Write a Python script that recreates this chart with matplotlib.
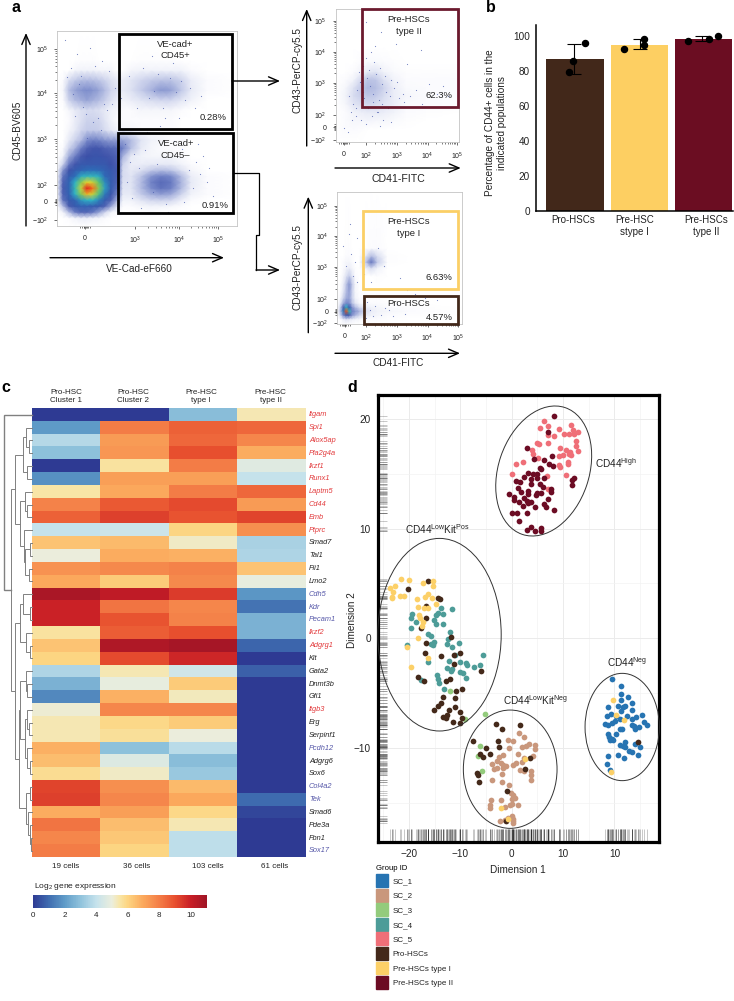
import numpy as np
import matplotlib
matplotlib.use('Agg')
import matplotlib.pyplot as plt
from matplotlib.colors import LinearSegmentedColormap
from matplotlib.patches import Ellipse, Patch, Rectangle
from matplotlib.cm import ScalarMappable
from matplotlib.colors import Normalize

plt.rcParams['font.family'] = ['Liberation Sans', 'DejaVu Sans']
plt.rcParams['mathtext.default'] = 'regular'
plt.rcParams['axes.unicode_minus'] = True

W, H = 734, 1001

# ---- panel a, flow density (level 0-10)
a_x = [0, 6, 12, 18, 24, 30, 36, 42, 48, 54, 60, 66, 74, 84, 94, 104, 114, 124, 134, 150, 180]
a_y = [0, 8, 14, 20, 26, 32, 38, 44, 50, 56, 62, 70, 78, 86, 96, 106, 116, 126, 136, 146, 156, 166, 195]
a_density = [
    [0] * 21,
    [0, 0, .1, .3, .4, .4, .3, .2, .1, 0, 0, 0, 0, 0, 0, 0, 0, 0, 0, 0, 0],
    [0, .3, 1.6, 3.2, 4, 4, 3.4, 2.2, .9, .3, .1, 0, 0, 0, .1, 0, 0, 0, 0, 0, 0],
    [0, 1.6, 4.4, 5, 5.2, 5.2, 5.1, 5, 4.2, 2.2, .7, .1, .1, .2, .3, .3, .2, .1, 0, 0, 0],
    [0, 3.6, 5, 5.3, 5.9, 6.2, 6.2, 5.7, 5.1, 4.2, 1.8, .3, .3, .6, .9, 1, .9, .4, .1, 0, 0],
    [.1, 4.2, 5.2, 6.2, 7.4, 8.4, 7.8, 6.9, 5.6, 4.9, 3, .5, .5, 1.2, 2, 2.4, 2.1, 1, .3, .1, 0],
    [.2, 4.4, 5.3, 6.4, 7.8, 10, 9.2, 7.4, 6, 5.1, 3.8, .6, .6, 1.6, 2.8, 3.6, 3.2, 1.7, .4, .1, 0],
    [.2, 4.2, 5.3, 6.2, 7.4, 8, 7.8, 7.1, 5.8, 5.1, 4.2, .7, .6, 1.6, 3.1, 3.9, 3.4, 1.8, .5, .1, 0],
    [.1, 3.6, 5.1, 5.5, 6.1, 6.3, 6.3, 6.1, 5.4, 5.1, 4.4, .8, .6, 1.4, 2.6, 3.2, 2.9, 1.6, .4, .1, 0],
    [.1, 2.6, 4.7, 5.1, 5.3, 5.5, 5.5, 5.4, 5.2, 5, 4.5, .8, .5, .7, 1.2, 1.5, 1.3, .7, .2, 0, 0],
    [0, 1, 3.4, 4.6, 5, 5, 5, 5, 5, 4.8, 4.3, 1, .4, .4, .5, .5, .5, .3, .1, 0, 0],
    [0, .3, 2, 3.2, 4.4, 4.8, 4.9, 4.9, 4.7, 4.5, 4.2, 1.8, .5, .3, .2, .2, .2, .1, 0, 0, 0],
    [0, .1, 1, 1.8, 3.2, 4.2, 4.6, 4.6, 4.2, 4, 3.8, 3.2, 1.5, .5, .2, .1, .1, .1, 0, 0, 0],
    [0, 0, .5, 1, 1.6, 2.8, 3.2, 3, 2.6, 2.4, 2.4, 2.2, 1.6, .6, .3, .2, .1, .1, 0, 0, 0],
    [0, 0, .2, .5, .9, 1.2, 1.2, 1.1, .8, .5, .3, .2, .2, .1, .1, .1, .1, 0, 0, 0, 0],
    [0, 0, .1, .4, .7, 1, 1, .9, .6, .3, .1, .1, .1, .1, .1, .1, .1, 0, 0, 0, 0],
    [0, 0, .2, .5, .7, .8, .8, .7, .5, .3, .2, .1, .1, .2, .2, .2, .2, .1, 0, 0, 0],
    [0, .1, 1, 1.6, 1.9, 2.2, 1.9, 1.6, 1.1, .7, .4, .3, .4, .6, .8, .9, .9, .6, .3, 0, 0],
    [0, .2, 1.5, 2.2, 2.6, 2.8, 2.6, 2.2, 1.6, .9, .7, .5, .7, 1.2, 1.8, 2.5, 2.3, 1.3, .5, .1, 0],
    [0, .1, .8, 1.2, 1.5, 1.6, 1.5, 1.3, 1, .7, .5, .4, .6, .9, 1.2, 1.4, 1.4, 1, .4, .1, 0],
    [0, 0, 0, .2, .3, .3, .3, .2, .2, .2, 0, 0, .2, .3, .3, .3, .3, .3, .1, 0, 0],
    [0, 0, 0, 0, .05, .05, .05, 0, 0, 0, 0, 0, 0, .05, .05, .05, .05, 0, 0, 0, 0],
    [0] * 21,
]
a_dots_x = [8, 20, 33, 45, 14, 38, 52, 10, 16, 26, 29, 41, 47, 58, 64, 72, 80, 86, 92, 97, 101, 108, 113, 119, 124, 128, 133, 138, 144,
            68, 77, 90, 103, 117, 125, 139, 146, 152, 75, 84, 96, 111, 127, 136, 143, 150, 73, 82, 100, 120, 132, 70, 88, 109, 141,
            24, 36, 44, 50, 30, 22, 55, 62, 18, 95, 106, 116, 122, 130, 156]
a_dots_y = [186, 172, 178, 165, 158, 160, 155, 149, 132, 119, 112, 108, 122, 138, 128, 150, 118, 158, 128, 135, 152, 108, 148, 134, 145, 126, 138, 118, 130,
            82, 72, 94, 100, 85, 77, 64, 70, 58, 28, 18, 34, 14, 24, 38, 52, 44, 64, 58, 62, 70, 56, 44, 76, 22, 82,
            150, 104, 96, 116, 88, 142, 122, 102, 110, 170, 118, 163, 108, 96, 30]

t2_x = [0, 10, 18, 26, 32, 40, 48, 58, 70, 90, 123]
t2_y = [0, 12, 22, 30, 38, 46, 54, 62, 70, 80, 95, 133]
t2_density = [
    [0] * 11,
    [0, .1, .1, .05, 0, 0, 0, 0, 0, 0, 0],
    [0, .1, .2, .2, .25, .2, .2, .15, .05, 0, 0],
    [0, .1, .3, .4, .5, .5, .4, .3, .1, .05, 0],
    [0, .2, .6, .8, .9, .8, .6, .4, .15, .1, .05],
    [0, .3, .8, 1.1, 1.3, 1.2, .8, .4, .2, .1, .1],
    [0, .2, .7, 1.3, 1.7, 1.5, 1, .4, .15, .1, .1],
    [0, .1, .3, .9, 1.4, 1.3, .7, .3, .1, .1, .1],
    [0, 0, .1, .3, .5, .6, .3, .15, .05, .05, .05],
    [0, 0, 0, .1, .15, .15, .1, .05, .03, 0, 0],
    [0, .02, .03, .03, .03, .03, .03, .03, .02, 0, 0],
    [0] * 11,
]
t2_dots_x = [13, 17, 21, 24, 28, 31, 34, 37, 40, 43, 46, 50, 54, 58, 63, 68, 74, 80, 86, 93, 101, 107, 112, 15, 20, 25, 30, 36, 42, 47, 52,
             23, 27, 33, 38, 44, 49, 55, 61, 67, 26, 32, 37, 41, 46, 30, 35, 39, 8, 12, 16, 45, 60, 71, 85, 30, 44, 55, 20, 27]
t2_dots_y = [46, 38, 52, 60, 44, 64, 56, 48, 68, 42, 58, 50, 46, 54, 44, 40, 46, 52, 38, 58, 48, 56, 46, 30, 26, 22, 18, 26, 30, 22, 34,
             70, 76, 72, 80, 74, 66, 62, 60, 48, 36, 34, 40, 30, 38, 84, 90, 96, 14, 10, 22, 110, 98, 78, 92, 120, 16, 20, 34, 50]

t1_x = [0, 3, 6, 9, 12, 15, 18, 22, 28, 34, 40, 50, 70, 124]
t1_y = [0, 5, 9, 13, 17, 21, 26, 32, 40, 48, 56, 62, 68, 76, 132]
t1_density = [
    [0] * 14,
    [0, .1, .5, .8, .6, .4, .3, .2, .1, .1, .1, .05, 0, 0],
    [0, .8, 3, 5, 4.5, 2.6, 1.8, 1, .5, .3, .2, .1, .05, 0],
    [.1, 1.4, 5.6, 9.5, 6.4, 3.2, 2.6, 1.8, .8, .4, .3, .2, .1, 0],
    [.1, 1, 4.4, 6.2, 5, 2.6, 1.6, .8, .4, .3, .2, .1, .05, 0],
    [0, .5, 2, 3, 2.8, 1.4, .6, .2, .1, .1, .1, .05, 0, 0],
    [0, .2, 1, 2, 2.2, 1, .3, .1, .05, .05, .05, 0, 0, 0],
    [0, .1, .6, 1.6, 2.3, 1, .2, .05, 0, 0, 0, 0, 0, 0],
    [0, .05, .4, 1.4, 2.6, 1.2, .2, 0, 0, 0, 0, 0, 0, 0],
    [0, 0, .2, .7, 1.2, .6, .1, 0, 0, 0, .05, 0, 0, 0],
    [0, 0, .1, .3, .4, .2, .05, 0, .3, .8, .3, 0, 0, 0],
    [0, 0, .1, .2, .2, .1, 0, 0, 1.2, 3.6, 1.2, .05, 0, 0],
    [0, 0, 0, .1, .1, .05, 0, 0, .5, 1.6, .8, .05, 0, 0],
    [0, 0, 0, .05, .05, 0, 0, 0, 0, .1, .1, 0, 0, 0],
    [0] * 14,
]
t1_dots_x = [6, 14, 18, 12, 9, 16, 20, 30, 33, 38, 44, 52, 60, 68, 29, 36, 42, 48, 56, 27, 34, 41, 70, 88, 47, 63, 78, 100, 13, 20]
t1_dots_y = [78, 70, 62, 90, 58, 48, 42, 22, 14, 18, 9, 14, 20, 10, 6, 8, 28, 16, 8, 50, 42, 76, 34, 26, 58, 46, 30, 24, 100, 86]

# ---- panel b
bar_names = ['Pro-HSCs', 'Pre-HSC\nstype I', 'Pre-HSCs\ntype II']
bar_values = [86.5, 94.7, 97.9]
bar_low = [78.3, 92.2, 97.1]
bar_high = [95.1, 97.9, 99.6]
dot_x = [.15, -.03, -.095, -.24, .07, .07, -.235, .08, .22]
dot_group = [0, 0, 0, 1, 1, 1, 2, 2, 2]
dot_y = [95.6, 85.5, 79, 92.2, 98.1, 94.7, 96.8, 98.3, 99.8]

# ---- panel c
genes = ['Itgam', 'Spi1', 'Alox5ap', 'Pla2g4a', 'Ikzf1', 'Runx1', 'Laptm5', 'Cd44', 'Emb', 'Ptprc',
         'Smad7', 'Tal1', 'Fli1', 'Lmo2', 'Cdh5', 'Kdr', 'Pecam1', 'Ikzf2', 'Adgrg1', 'Kit', 'Gata2',
         'Dnmt3b', 'Gfi1', 'Itgb3', 'Erg', 'Serpinf1', 'Pcdh12', 'Adgrg6', 'Sox6', 'Col4a2', 'Tek',
         'Smad6', 'Pde3a', 'Fbn1', 'Sox17']
gene_kind = 'rrrrrrrrrrkkkkbbbrrkkkkrkkbkkbbkkkb'
expr = [
    [0, 0, 2.9, 5.4], [2, 8, 8.6, 8.5], [3.7, 7.3, 8.5, 7.8], [3, 7.4, 9, 6.9],
    [0, 5.6, 8, 4.7], [1.8, 7.2, 7.2, 4], [5.5, 7, 8, 8.5], [7.9, 8.8, 9.1, 7.3],
    [8.6, 9.3, 8.9, 9.2], [4, 4.2, 6, 7.6], [6.4, 6.6, 5.2, 3.5], [5, 6.9, 6.8, 3.6],
    [7.5, 7.7, 7.9, 6.4], [7, 6.2, 7.7, 4.9], [10.7, 10.2, 9.4, 1.9], [9.9, 8.2, 7.8, 1.2],
    [9.9, 8.9, 7.9, 2.6], [5.6, 8.7, 9, 2.6], [6.4, 10.6, 10.8, .9], [6, 9.1, 9.8, 0],
    [3.6, 5.4, 4.3, .8], [2.6, 4.9, 6.2, 0], [1.6, 6.8, 5.3, 0], [5.1, 7.8, 7.8, 0],
    [5.4, 5.9, 6.2, 0], [5.4, 5.7, 5, 0], [6.8, 3, 3.8, 0], [6.5, 4.6, 2.9, 0],
    [5.8, 5.2, 3.2, 0], [9.2, 7.6, 6.6, 0], [9.3, 7.8, 7, 1], [6.9, 7.2, 5.9, .3],
    [8.2, 6.5, 5.4, 0], [7.8, 6.3, 3.9, 0], [8, 6, 3.9, 0],
]
col_names = ['Pro-HSC\nCluster 1', 'Pro-HSC\nCluster 2', 'Pre-HSC\ntype I', 'Pre-HSC\ntype II']
cell_counts = ['19 cells', '36 cells', '103 cells', '61 cells']
# leaves are 0-34, every merge makes the next id; last number is the height
merges = [(2, 3, 29), (1, 35, 26), (4, 5, 27), (36, 37, 23), (7, 8, 27), (6, 39, 25), (10, 11, 30),
          (12, 13, 29), (41, 42, 25), (9, 43, 24), (40, 44, 20), (38, 45, 15), (15, 16, 30),
          (14, 47, 23), (18, 19, 30), (17, 49, 26), (48, 50, 20), (21, 22, 27), (20, 52, 26),
          (24, 25, 29), (23, 54, 27), (27, 28, 30), (26, 56, 27), (55, 57, 25), (53, 58, 20),
          (29, 30, 30), (33, 34, 31), (32, 61, 30), (31, 62, 28), (60, 63, 26), (59, 64, 19),
          (51, 65, 15), (46, 66, 11), (0, 67, 4)]

# ---- panel d
sc1_x = [19.48, 21.3, 21.17, 22.6, 21.3, 23.44, 20.78, 21.62, 22.14, 18.7, 23.38, 21.23, 19.35, 18.51, 20.32, 25.32,
         22.4, 23.38, 24.16, 21.1, 20.13, 19.48, 18.83, 18.18, 25.65, 23.44, 23.7, 24.68, 26.3, 24.03, 21.43, 21.1,
         20.26, 18.83, 18.9, 19.48, 19.8, 19.16, 21.95, 21.1, 21.75, 22.14, 24.03, 22.92, 23.38, 25, 18.7, 20.65,
         21.82, 24.55, 18.51, 19.03]
sc1_y = [-3.74, -4.35, -5.08, -5.32, -5.59, -5.9, -6.14, -6.26, -6.14, -6.29, -6.57, -6.6, -6.87, -7.11, -7.11, -6.96,
         -7.11, -7.36, -7.2, -7.36, -7.57, -7.72, -7.87, -7.78, -7.63, -7.87, -8.03, -8.12, -7.9, -8.27, -8.27, -8.27,
         -8.75, -8.75, -9, -9.18, -9.3, -9.24, -9.48, -9.7, -9.85, -9.94, -9.64, -10.24, -10.4, -9.91, -10.7, -10.61,
         -10.91, -10.64, -11.43, -12.04]
sc2_x = [1.36, 2.47, -.65, .19, -.45, 4.55, 4.55, 3.44, 2.73, 1.95, 4.09, 2.47, 1.17, -1.62, -2.4, -2.92, -2.14, -1.62,
         -1.1, -3.9, -3.38, -2.79, -1.62, .32, .78, 1.95, 1.62, 2.4, 3.77, 3.77, 3.77, -1.95, -3.77, -1.82, -.52, -.19,
         .32, .65, .06, -2.01, -4.09, -4.22, -4.22, -1.3, -.32, .13, 1.3, -2.27, -1.3, .06, .19, .19, -.65, .32]
sc2_y = [-8.63, -8.97, -9.27, -9.33, -9.97, -9.7, -10.09, -9.6, -9.79, -9.91, -10.76, -10.91, -10.55, -10.61, -10.82,
         -11.22, -11.37, -11.52, -11.67, -11.46, -11.92, -11.83, -11.83, -11.52, -11.37, -11.31, -12.04, -12.13, -12.13,
         -12.49, -12.89, -12.34, -12.95, -13.13, -13.38, -14.1, -14.32, -14.56, -14.65, -14.71, -14.77, -15.17, -15.47,
         -15.41, -15.17, -15.08, -15.2, -16.63, -16.54, -16.23, -16.48, -16.84, -16.38, -16.69]
sc3_x = [-12, -9.1, -5.13, -6.1, -6.5, -5.78]
sc3_y = [-4.8, -7.4, -6.87, -9.79, -10.76, -12.13]
sc4_x = [-13.7, -11.55, -19.3, -19.5, -18.7, -14.3, -13.4, -14.7, -15.05, -14.7, -13.4, -19.66, -16.35, -15.7, -12,
         -12.46, -12.66, -10.26, -15.05, -15.7, -15.25, -11.55, -20.4, -11.04, -12.2, -16.2, -10.06, -8.96, -8.77,
         -12.66, -11.55, -11.9, -10.06, -9.4, -7.27, -6.1, -5.65, -8.96, -14.47, -14.4, -14.15, -17.6, -13.1]
sc4_y = [2.73, 2.67, 2.18, 1.88, 1.52, 2.28, 2.21, 2.12, 1.67, 1.3, 1.27, .97, .39, .24, .54, -.1, -.52, -.46, -.31,
         -.52, -.61, -.76, -.61, -1.52, -2.04, -2.13, -2.19, -2.22, -2.47, -2.74, -2.8, -3, -3.1, -3.2, -2.59, -2.44,
         -1.55, -3.62, -3.35, -3.71, -4.1, -3.8, -4.62]
sc5_x = [6.3, 5.52, 7.08, 9.29, 11.62, 12.01, 10.26, 11.17, 12.21, 12.86, 8.31, 7.01, 4.87, 5.39, 7.14, 4.03, 4.09, 9.35,
         12.47, 12.6, 10.58, 11.36, 11.56, 12.86, 11.1, 10.06, 9.22, 5.13, .91, 2.27, 10.97, 10.97, 9.22, 9.42, 0, 6.82,
         10.58, 7.14]
sc5_y = [19.85, 19.15, 19.36, 19.09, 19.45, 19, 18.63, 18.63, 18.6, 18.84, 18.42, 18.54, 17.81, 17.75, 17.81, 17.14,
         16.78, 17.39, 17.96, 17.57, 17.17, 17.02, 16.72, 17.11, 16.84, 16.72, 16.6, 16.41, 15.93, 16.08, 16.11, 15.93,
         15.81, 15.62, 14.98, 14.83, 14.89, 13.62]
pro_x = [-16.2, -20.2, -14.3, -13.9, -16.7, -16.7, -17.65, -11.75, -16.7, -16.87, -13.8, -10.1, -11.17, -11.17, -18.3,
         -17, -12.85, -12, -9.6, -10.84, -13.3, -11, -6, -13.83, -14.29, -15.13, -12.14, -10.97, -10.06, -12.53, -13.44,
         -12.79, -9.74, -11.43, -10.06, -3.05, -1.95, 1.62, -7.47, -2.66, -5.06, -2.53, -6.17, -5.52, -4.29, 3.57, 2.6,
         -6.75, -6.56, -6.36, -.84, -1.04, 24.6]
pro_y = [5.22, 4.49, 3.64, 3.58, 2.94, 1.88, .91, .15, -.46, -1.31, -1.58, -1.37, -1.52, -2.37, -3.56, -3.89, -3.86,
         -3.71, -4.62, -4.78, -5.38, -5.41, -3, -5.9, -6.14, -6.54, -6.57, -6.23, -6.75, -6.96, -7.14, -7.27, -7.27,
         -7.6, -7.72, -7.84, -8.24, -7.93, -9.36, -9.33, -9.97, -9.91, -10.55, -10.82, -10.55, -10.94, -11.95, -12.28,
         -12.49, -13.13, -13.92, -16.63, -9.42]
pre1_x = [-23.6, -22.7, -21.5, -19.9, -17.2, -15.4, -15.4, -23, -23.2, -23.2, -21.7, -20.9, -18.5, -16.9, -16.35, -15.6,
          -18.2, -17, -16.2, -14.8, -18, -17.8, -17.2, -17.5, -18.2, -20.3, -16.2, -19.5, 19.8, 20.26, 21.82, 19.35, 2.6,
          -2.08, -.78]
pre1_y = [4.6, 4.8, 5.4, 5.3, 5.07, 5.22, 4.8, 4.19, 3.8, 3.64, 3.86, 3.86, 3.58, 3.73, 4.04, 3.67, 2.88, 2.79, 2.79,
          3.1, 2.12, 1.82, 1.45, 1.12, .06, -.76, -1.77, -2.65, -5.62, -6.99, -7.42, -12.16, -10.97, -15.5, -16.45]
pre2_x = [8.25, 7.14, 2.92, 4.29, 6.36, 7.79, 7.27, 7.99, 5.52, 5.65, 3.12, 2.4, 4.22, 4.87, 3.77, 4.87, 6.36, .84, 1.62,
          3.77, 5.52, 6.17, 7.6, 7.6, 1.3, 1.75, 3.12, 3.25, 5, 5.71, 4.74, -.45, .45, .45, 2.4, 1.49, 2.92, 3.77, 3.25,
          2.14, 7.08, 6.3, 6.69, 4.61, 8.25, 2.99, .13, .97, 1.43, 2.92, 3.7, 4.48, 5.71, 5.71, 12.14, 11.82, 11.69]
pre2_y = [20.24, 18.78, 17.39, 16.32, 16.23, 16.63, 15.87, 15.71, 15.56, 15.41, 15.05, 14.74, 14.95, 14.95, 14.53, 14.59,
          14.65, 14.35, 14.22, 14.04, 14.04, 13.83, 13.62, 13.37, 13.68, 13.37, 13.43, 13.13, 13.22, 13.28, 13.07, 13.16,
          12.86, 12.61, 12.77, 12.46, 12.52, 12.46, 12.31, 12.1, 12.67, 12.22, 11.95, 11.95, 11.7, 11.46, 11.43, 11.43,
          10.73, 9.88, 10.18, 9.82, 10.03, 9.79, 14.65, 14.44, 13.98]
group_names = ['SC_1', 'SC_2', 'SC_3', 'SC_4', 'SC_5', 'Pro-HSCs', 'Pre-HSCs type I', 'Pre-HSCs type II']
group_colors = ['#2774b2', '#c9977c', '#93cb7c', '#4d9c98', '#ef6f78', '#44291a', '#fcd068', '#6c0c24']
group_x = [sc1_x, sc2_x, sc3_x, sc4_x, sc5_x, pro_x, pre1_x, pre2_x]
group_y = [sc1_y, sc2_y, sc3_y, sc4_y, sc5_y, pro_y, pre1_y, pre2_y]

flow_cmap = LinearSegmentedColormap.from_list('flow', [
    (0, '#ffffff'), (.1, '#ccd2ec'), (.3, '#7485c8'), (.48, '#3c50a8'), (.55, '#2e6db8'),
    (.62, '#2fb2c6'), (.72, '#60c46a'), (.8, '#e6d82e'), (.9, '#f58a20'), (1, '#e4201c')])
expr_cmap = LinearSegmentedColormap.from_list('expr', [
    (0, '#2e3a93'), (1 / 11, '#3f6cb0'), (2 / 11, '#5f9bc8'), (3 / 11, '#8fc2dc'), (4 / 11, '#c5e2ec'),
    (5 / 11, '#ebeedd'), (5.5 / 11, '#f8e6a8'), (6 / 11, '#fdd582'), (7 / 11, '#fba85c'), (8 / 11, '#f47e47'),
    (9 / 11, '#e8502f'), (10 / 11, '#c81e26'), (1, '#a01526')])

fig = plt.figure(figsize=(W / 100, H / 100), dpi=100)


def px_axes(left, top, right, bottom, **kw):
    return fig.add_axes([left / W, 1 - bottom / H, (right - left) / W, (bottom - top) / H], **kw)


over = fig.add_axes([0, 0, 1, 1], zorder=10)
over.set_xlim(0, W)
over.set_ylim(H, 0)
over.axis('off')
over.patch.set_alpha(0)


def label(x, y, s, size=6.8, ha='center', **kw):
    over.text(x, y, s, fontsize=size, ha=ha, va='center', color=kw.pop('color', '#222222'), **kw)


def arrow(x0, y0, x1, y1, lw=1.0):
    over.annotate('', xy=(x1, y1), xytext=(x0, y0),
                  arrowprops=dict(arrowstyle='->,head_length=0.7,head_width=0.3', lw=lw, color='black',
                                  shrinkA=0, shrinkB=0))


def minor_ticks(majors):
    out = []
    for a, b in zip(majors[:-1], majors[1:]):
        out += [a + (b - a) * np.log10(k) for k in range(2, 10)]
    return out


def flow_plot(rect, nx, ny, density, xt, xl, yt, yl, gates, dots=None):
    left, top, right, bottom = rect
    ax = px_axes(left, top, right, bottom)
    ax.pcolormesh(nx, ny, np.array(density), cmap=flow_cmap, vmin=0, vmax=10, shading='gouraud', rasterized=True)
    if dots is not None:
        ax.scatter(dots[0], dots[1], s=.7, color='#4a5cae', linewidths=0, alpha=.75)
    ax.set_xlim(0, right - left)
    ax.set_ylim(0, bottom - top)
    ax.set_xticks(xt)
    ax.set_xticklabels(xl)
    ax.set_yticks(yt)
    ax.set_yticklabels(yl)
    # the dense little ticks around zero are part of the original axes
    near_x = [xt[0] + d for d in (-5, -3, -1.5, -.7, .7, 1.5, 3, 5)]
    near_y = [yt[1] + d for d in (-3, -1.5, -.7, .7, 1.5, 3)]
    ax.set_xticks(minor_ticks(xt[1:]) + near_x, minor=True)
    ax.set_yticks(minor_ticks(yt[2:]) + near_y, minor=True)
    ax.tick_params(which='major', length=2.5, width=.5, labelsize=5, pad=4, color='#333333', labelcolor='#222222')
    ax.tick_params(which='minor', length=1.4, width=.45, color='#333333')
    for s in ax.spines.values():
        s.set_color('#c4c4c4')
        s.set_linewidth(.6)
    for (x0, y0, x1, y1, c) in gates:
        ax.add_patch(Rectangle((x0 - left, bottom - y1), x1 - x0, y1 - y0, fill=False, ec=c, lw=2,
                               clip_on=False, zorder=5))
    return ax


# a
flow_plot((57, 31, 237, 226), a_x, a_y, a_density,
          [28, 78, 122, 161], ['0', '$10^3$', '$10^4$', '$10^5$'],
          [6, 24.3, 41, 87, 133, 177.3], ['$-10^2$', '0', '$10^2$', '$10^3$', '$10^4$', '$10^5$'],
          [(119.3, 34, 231.7, 129.3, 'black'), (118.3, 132.7, 233.3, 213.3, 'black')],
          dots=(a_dots_x, a_dots_y))
label(175, 44.3, 'VE-cad+')
label(175, 56, 'CD45+')
label(226.7, 118, '0.28%', ha='right')
label(175.7, 143, 'VE-cad+')
label(175.7, 155, 'CD45–')
label(229, 205.7, '0.91%', ha='right')
label(139.3, 269.3, 'VE-Cad-eF660', size=7.2)
label(17.7, 130, 'CD45-BV605', size=7.2, rotation=90)
arrow(26, 226, 26, 33)
arrow(50, 257.7, 224, 257.7)
arrow(232, 81, 280, 81)
over.plot([233, 258.7, 258.7, 256, 256], [172.7, 172.7, 235, 235, 270], color='black', lw=.9)
arrow(256, 270, 280, 270)

# type II
flow_plot((335.7, 9, 459, 141.7), t2_x, t2_y, t2_density,
          [8.3, 30.3, 61, 92, 121], ['0', '$10^2$', '$10^3$', '$10^4$', '$10^5$'],
          [1.7, 14.7, 27, 59, 90, 121], ['$-10^2$', '0', '$10^2$', '$10^3$', '$10^4$', '$10^5$'],
          [(361.7, 9.3, 458, 106.7, '#6b1a2e')], dots=(t2_dots_x, t2_dots_y))
label(408.7, 19.7, 'Pre-HSCs')
label(408.7, 31, 'type II')
label(452.7, 95.7, '62.3%', ha='right')
label(398, 179, 'CD41-FITC', size=7.6)
label(297.3, 70, 'CD43-PerCP-cy5.5', size=7.2, rotation=90)
arrow(306.7, 146, 306.7, 9)
arrow(335, 168, 460.7, 168)

# type I / pro
flow_plot((337.3, 192.3, 461.7, 324), t1_x, t1_y, t1_density,
          [7.4, 28.7, 59.4, 90.4, 120.7], ['0', '$10^2$', '$10^3$', '$10^4$', '$10^5$'],
          [1, 12.3, 25, 57.3, 88.3, 118.3], ['$-10^2$', '0', '$10^2$', '$10^3$', '$10^4$', '$10^5$'],
          [(363, 210.7, 457.7, 289.3, '#fbcf66'), (363.7, 296, 458.3, 324, '#42281a')],
          dots=(t1_dots_x, t1_dots_y))
label(408.7, 221.3, 'Pre-HSCs')
label(408.7, 233.7, 'type I')
label(452.7, 277.3, '6.63%', ha='right')
label(409, 303.3, 'Pro-HSCs')
label(452.7, 317.7, '4.57%', ha='right')
label(398, 363.3, 'CD41-FITC', size=7.2)
label(297.3, 267.5, 'CD43-PerCP-cy5.5', size=7.2, rotation=90)
arrow(308.3, 332.7, 308.3, 196.7)
arrow(335, 353.3, 460, 353.3)

# b
ax_b = px_axes(535.7, 25, 733, 210.7)
bar_pos = np.arange(3)
ax_b.bar(bar_pos, bar_values, width=.89, color=['#42281a', '#fdcf62', '#6b0d22'])
ax_b.set_xlim(-.61, 2.46)
ax_b.set_ylim(0, 106.1)
err_x = [-.02, .02, -.02]
for i in range(3):
    ax_b.errorbar(i + err_x[i], bar_values[i], yerr=[[bar_values[i] - bar_low[i]], [bar_high[i] - bar_values[i]]],
                  color='black', lw=.8, capsize=5, capthick=.8)
ax_b.scatter(np.array(dot_group) + np.array(dot_x), dot_y, s=19, color='black', zorder=5, clip_on=False)
ax_b.set_yticks(range(0, 101, 20))
ax_b.set_xticks(bar_pos)
ax_b.set_xticklabels([])
ax_b.tick_params(length=0, labelsize=7.2, pad=4, labelcolor='#222222')
for s in ['top', 'right']:
    ax_b.spines[s].set_visible(False)
for s in ['left', 'bottom']:
    ax_b.spines[s].set_linewidth(1.1)
label(573.3, 220, bar_names[0], size=7)
label(634.5, 226, bar_names[1], size=7, linespacing=1.25)
label(706, 226, bar_names[2], size=7, linespacing=1.25)
label(496, 123, 'Percentage of CD44+ cells in the\nindicated populations', size=7.2, rotation=90, linespacing=1.25)

# c
ax_c = px_axes(32, 408.3, 305.7, 857.3)
ax_c.imshow(np.array(expr), cmap=expr_cmap, vmin=0, vmax=11, aspect='auto', interpolation='nearest')
ax_c.axis('off')
row_h = (857.3 - 408.3) / len(genes)
kind_color = {'r': '#e2393b', 'k': '#222222', 'b': '#5557a8'}
for i, g in enumerate(genes):
    label(309, 408.3 + (i + .5) * row_h, g, size=5.3, ha='left', style='italic', color=kind_color[gene_kind[i]])
for x, s in zip([66, 133, 201, 270.7], col_names):
    label(x, 396, s, size=5.8, linespacing=1.2)
for x, s in zip([65.7, 136.3, 207.7, 275], cell_counts):
    label(x, 866, s, size=5.8)
nodes = {i: (32, 408.3 + (i + .5) * row_h) for i in range(len(genes))}
for n, (a, b, h) in enumerate(merges):
    xa, ya = nodes[a]
    xb, yb = nodes[b]
    over.plot([xa, h, h, xb], [ya, ya, yb, yb], color='#808080', lw=.7 if h > 4 else 1.0, solid_joinstyle='miter')
    nodes[len(genes) + n] = (h, (ya + yb) / 2)

cax = px_axes(32.7, 895, 206.7, 907.7)
cb = fig.colorbar(ScalarMappable(Normalize(0, 11), expr_cmap), cax=cax, orientation='horizontal')
cb.set_ticks(range(0, 11, 2))
cb.ax.tick_params(length=0, labelsize=5.8, pad=3, labelcolor='#222222')
cb.outline.set_visible(False)
label(34, 887, 'Log$_2$ gene expression', size=6, ha='left')

# d
ax_d = px_axes(377.7, 395, 659, 841.7)
ax_d.set_xlim(-26.07, 28.66)
ax_d.set_ylim(-18.54, 22.18)
ax_d.set_axisbelow(True)
ax_d.set_xticks([-20, -10, 0, 10, 20])
ax_d.set_xticklabels(['\u221220', '\u221210', '0', '10', '10'])
ax_d.set_yticks([20, 10, 0, -10])
ax_d.set_yticklabels(['20', '10', '0', '\u221210'])
ax_d.set_xticks([-25, -15, -5, 5, 15, 25], minor=True)
ax_d.set_yticks([15, 5, -5, -15], minor=True)
ax_d.grid(which='major', color='#ebebeb', lw=.7)
ax_d.grid(which='minor', color='#f3f3f3', lw=.5)
ax_d.tick_params(which='both', length=0)
ax_d.tick_params(labelsize=7.2, pad=5, labelcolor='#222222')
all_x = sum(group_x, [])
all_y = sum(group_y, [])
ax_d.vlines(all_x, 0, .028, transform=ax_d.get_xaxis_transform(), color='black', alpha=.25, lw=.6)
ax_d.hlines(all_y, 0, .032, transform=ax_d.get_yaxis_transform(), color='black', alpha=.25, lw=.6)
for gx, gy, c in zip(group_x, group_y, group_colors):
    ax_d.scatter(gx, gy, s=17, color=c, linewidths=0, zorder=3)
for s in ax_d.spines.values():
    s.set_linewidth(2.3)
label(518, 870, 'Dimension 1', size=7.2)
label(352, 620, 'Dimension 2', size=7.2, rotation=90)

for (cx, cy, w, h, ang) in [(543.7, 471, 90.6, 133.8, 18.7), (439.5, 634.7, 123.4, 192.6, 0),
                            (510.2, 769.2, 93.7, 118.3, 0), (622.2, 727, 74.3, 107.3, 0)]:
    over.add_patch(Ellipse((cx, cy), w, h, angle=ang, fill=False, ec='#333333', lw=.7))
label(595, 463, 'CD44$^{High}$', size=7.2, ha='left')
label(405, 529, 'CD44$^{Low}$Kit$^{Pos}$', size=7.2, ha='left')
label(503, 700, 'CD44$^{Low}$Kit$^{Neg}$', size=7.2, ha='left')
label(606.7, 662, 'CD44$^{Neg}$', size=7.2, ha='left')

handles = [Patch(color=c, label=n) for c, n in zip(group_colors, group_names)]
leg = over.legend(handles=handles, title='Group ID', loc='upper left', bbox_to_anchor=(376, 865.5),
                  bbox_transform=over.transData, frameon=False, fontsize=5.8, title_fontsize=5.6,
                  alignment='left', borderpad=0, borderaxespad=0, handlelength=1.53, handleheight=2.08,
                  labelspacing=.21, handletextpad=.53)
for t in leg.get_texts():
    t.set_color('#222222')

for x, y, s in [(12, 8, 'a'), (485.7, 8, 'b'), (1, 387, 'c'), (347, 387, 'd')]:
    over.text(x, y, s, fontsize=11.5, fontweight='bold', ha='left', va='center', color='black')

fig.savefig('out.png', dpi=100)
